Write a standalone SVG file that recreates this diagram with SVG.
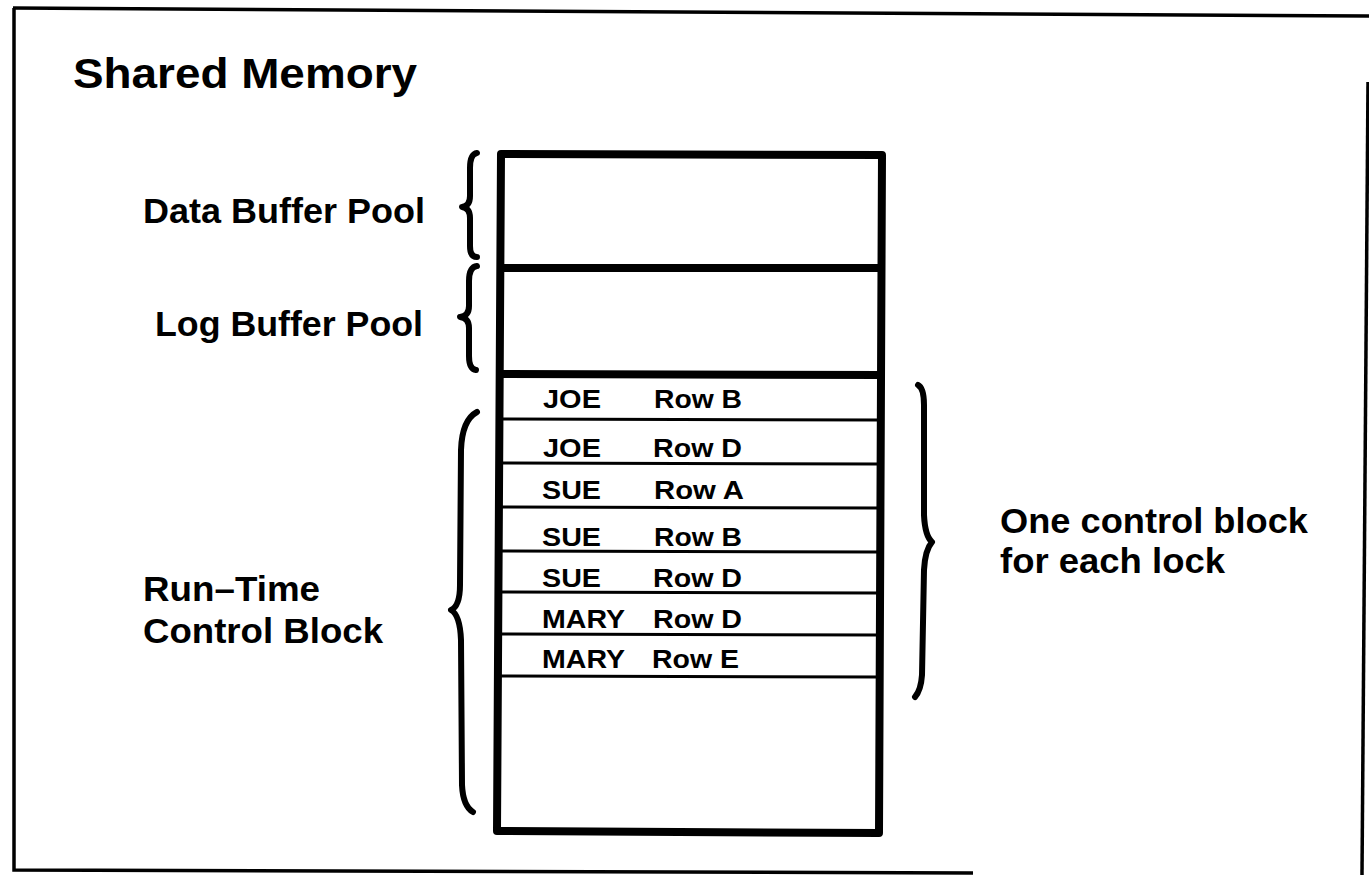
<svg xmlns="http://www.w3.org/2000/svg" width="1369" height="875" viewBox="0 0 1369 875">
<style>
text{font-family:"Liberation Sans",Arial,Helvetica,sans-serif;font-weight:bold;fill:#000}
.title{font-size:43px}
.lbl{font-size:35px}
.row{font-size:26px}
.frame{fill:none;stroke:#000;stroke-width:3.5}
.thick{fill:none;stroke:#000;stroke-width:8;stroke-linejoin:round;stroke-linecap:round}
.thin{fill:none;stroke:#000;stroke-width:3}
.brace{fill:none;stroke:#000;stroke-width:6;stroke-linecap:round;stroke-linejoin:round}
</style>
<rect x="0" y="0" width="1369" height="875" fill="#fff"/>
<g id="frame">
<path class="frame" d="M13,8 L1369,16"/>
<path class="frame" d="M14,8 L14,870 L973,873"/>
<path class="frame" d="M1368,82 L1362,875"/>
</g>
<text class="title" x="73" y="88" textLength="344" lengthAdjust="spacingAndGlyphs">Shared Memory</text>
<g id="memory-box">
<path class="thick" d="M501,154 L882,155 L879,833 L497,831 Z"/>
<path class="thick" d="M501,268 L881,268"/>
<path class="thick" d="M500,374 L881,375"/>
</g>
<g id="data-buffer-pool">
<text class="lbl" x="143" y="223" textLength="282" lengthAdjust="spacingAndGlyphs">Data Buffer Pool</text>
</g>
<g id="log-buffer-pool">
<text class="lbl" x="155" y="336" textLength="268" lengthAdjust="spacingAndGlyphs">Log Buffer Pool</text>
</g>
<g id="run-time-control-block">
<text class="lbl" x="143" y="601" textLength="177" lengthAdjust="spacingAndGlyphs">Run–Time</text>
<text class="lbl" x="143" y="643" textLength="240" lengthAdjust="spacingAndGlyphs">Control Block</text>
</g>
<g id="one-control-block">
<text class="lbl" x="1000" y="533" textLength="308" lengthAdjust="spacingAndGlyphs">One control block</text>
<text class="lbl" x="1000" y="573" textLength="225" lengthAdjust="spacingAndGlyphs">for each lock</text>
</g>
<g id="rows">
<path class="thin" d="M501,419 L880,420"/>
<path class="thin" d="M500,463 L880,464"/>
<path class="thin" d="M500,507 L880,508"/>
<path class="thin" d="M500,551 L880,552"/>
<path class="thin" d="M499,592 L880,593"/>
<path class="thin" d="M499,634 L880,635"/>
<path class="thin" d="M499,676 L880,677"/>
<g id="row1"><text class="row" x="543" y="408" textLength="58" lengthAdjust="spacingAndGlyphs">JOE</text><text class="row" x="654" y="408" textLength="88" lengthAdjust="spacingAndGlyphs">Row B</text></g>
<g id="row2"><text class="row" x="543" y="457" textLength="58" lengthAdjust="spacingAndGlyphs">JOE</text><text class="row" x="653" y="457" textLength="89" lengthAdjust="spacingAndGlyphs">Row D</text></g>
<g id="row3"><text class="row" x="542" y="499" textLength="59" lengthAdjust="spacingAndGlyphs">SUE</text><text class="row" x="654" y="499" textLength="90" lengthAdjust="spacingAndGlyphs">Row A</text></g>
<g id="row4"><text class="row" x="542" y="546" textLength="59" lengthAdjust="spacingAndGlyphs">SUE</text><text class="row" x="654" y="546" textLength="88" lengthAdjust="spacingAndGlyphs">Row B</text></g>
<g id="row5"><text class="row" x="542" y="587" textLength="59" lengthAdjust="spacingAndGlyphs">SUE</text><text class="row" x="653" y="587" textLength="89" lengthAdjust="spacingAndGlyphs">Row D</text></g>
<g id="row6"><text class="row" x="542" y="628" textLength="83" lengthAdjust="spacingAndGlyphs">MARY</text><text class="row" x="653" y="628" textLength="89" lengthAdjust="spacingAndGlyphs">Row D</text></g>
<g id="row7"><text class="row" x="542" y="668" textLength="83" lengthAdjust="spacingAndGlyphs">MARY</text><text class="row" x="652" y="668" textLength="87" lengthAdjust="spacingAndGlyphs">Row E</text></g>
</g>
<g id="braces">
<path class="brace" d="M477,153 Q470,154 470,168 L470,196 Q470,206 462,207 Q470,208 470,218 L470,246 Q470,257 477,257"/>
<path class="brace" d="M477,266 Q469,267 469,281 L469,306 Q469,316 460,317 Q469,318 469,328 L469,356 Q469,369 476,370"/>
<path class="brace" d="M477,412 Q462,420 461,450 L460,585 Q460,606 451,610 Q460,615 461,640 L462,785 Q463,806 473,812"/>
<path class="brace" d="M918,385 Q924,388 924,405 L924,515 Q925,536 932,542 Q925,550 924,570 L922,675 Q921,690 915,697"/>
</g>
</svg>
